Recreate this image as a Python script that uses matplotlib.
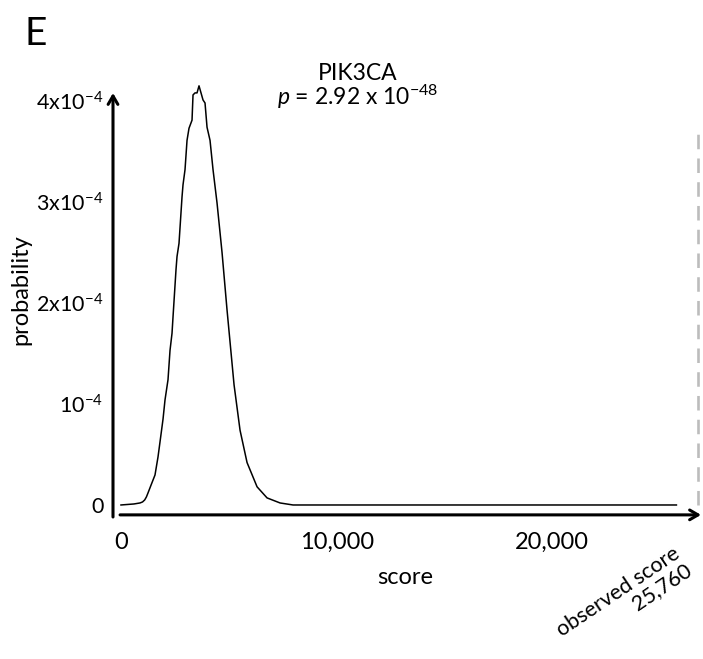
import matplotlib
matplotlib.use("Agg")
import matplotlib.pyplot as plt
import numpy as np

plt.rcParams['font.family'] = ['Lato', 'DejaVu Sans']
plt.rcParams['mathtext.fontset'] = 'custom'
plt.rcParams['mathtext.rm'] = 'Lato'
plt.rcParams['mathtext.it'] = 'Lato:italic'
plt.rcParams['mathtext.bf'] = 'Lato:bold'

# data (score, probability)
score = [0, 300, 600, 882, 1000, 1100, 1180, 1253, 1400, 1578, 1717, 1810, 1950, 2042, 2181,
         2274, 2367, 2413, 2552, 2599, 2691, 2831, 2877, 2970, 3063, 3155, 3295, 3341,
         3434, 3527, 3619, 3712, 3805, 3898, 3991, 4130, 4269, 4455, 4687, 4919, 5244,
         5522, 5847, 6311, 6775, 7378, 7981, 12000, 18000, 25760]
prob = [0.0, 0.005e-4, 0.01e-4, 0.02e-4, 0.03e-4, 0.05e-4, 0.08e-4, 0.119e-4, 0.2e-4,
        0.297e-4, 0.475e-4, 0.624e-4, 0.85e-4, 1.04e-4, 1.24e-4, 1.53e-4, 1.70e-4,
        1.86e-4, 2.33e-4, 2.46e-4, 2.59e-4, 3.05e-4, 3.17e-4, 3.32e-4, 3.61e-4, 3.73e-4,
        3.81e-4, 4.06e-4, 4.08e-4, 4.08e-4, 4.15e-4, 4.08e-4, 4.01e-4, 3.98e-4, 3.74e-4,
        3.61e-4, 3.32e-4, 2.99e-4, 2.50e-4, 1.93e-4, 1.19e-4, 0.74e-4, 0.42e-4, 0.18e-4,
        0.07e-4, 0.02e-4, 0.0, 0.0, 0.0, 0.0]

xticks = [0, 10000, 20000]
xticklabels = ['0', '10,000', '20,000']
yticks = [0, 1e-4, 2e-4, 3e-4, 4e-4]
yticklabels = ['0', r'10$^{\mathrm{-4}}$', r'2x10$^{-4}$', r'3x10$^{-4}$', r'4x10$^{-4}$']
observed = 25760
observed_marker = 26780

W, H = 703, 659
fig = plt.figure(figsize=(W/100, H/100), dpi=100)

def fx(px):
    return px / W

def fy(py):
    return 1 - py / H

ax = fig.add_axes([fx(113), fy(517), (701-113)/W, (517-93)/H])
ax.set_xlim(-370, 26900)
ax.set_ylim(-0.119e-4, 4.079e-4)
for s in ax.spines.values():
    s.set_visible(False)

ax.plot(score, prob, color='black', lw=1.1, clip_on=False)
ax.plot([observed_marker, observed_marker], [0, 3.74e-4], color='#bcbcbc', lw=1.9,
        dashes=(5.5, 3.5), clip_on=False)

ax.set_xticks(xticks)
ax.set_xticklabels(xticklabels, fontsize=17)
ax.set_yticks(yticks)
ax.set_yticklabels(yticklabels, fontsize=15.5)
ax.tick_params(axis='both', length=0)
ax.tick_params(axis='x', pad=11)
ax.tick_params(axis='y', pad=7)

# axis arrows
ax.annotate('', xy=(0, 1), xytext=(0, 0), xycoords='axes fraction',
            arrowprops=dict(arrowstyle='->,head_length=0.6,head_width=0.35', lw=2.2,
                            color='black', shrinkA=0, shrinkB=0))
ax.annotate('', xy=(1, 0.005), xytext=(0.012, 0.005), xycoords='axes fraction',
            arrowprops=dict(arrowstyle='->,head_length=0.6,head_width=0.35', lw=2.2,
                            color='black', shrinkA=0, shrinkB=0))

fig.text(fx(24), fy(34), 'E', fontsize=28, ha='left', va='center')
fig.text(fx(358), fy(74), 'PIK3CA', fontsize=16.5, ha='center', va='center')
fig.text(fx(358), fy(97), r'$p$ = 2.92 x 10$^{-48}$', fontsize=16.5, ha='center', va='center')
fig.text(fx(21), fy(290), 'probability', fontsize=17, rotation=90, ha='center', va='center')
fig.text(fx(405), fy(577), 'score', fontsize=17, ha='center', va='center')
fig.text(fx(624), fy(600), 'observed score\n25,760', fontsize=15.5, rotation=34,
         ha='center', va='center', multialignment='right', linespacing=1.0)

fig.savefig('out.png', dpi=100)
